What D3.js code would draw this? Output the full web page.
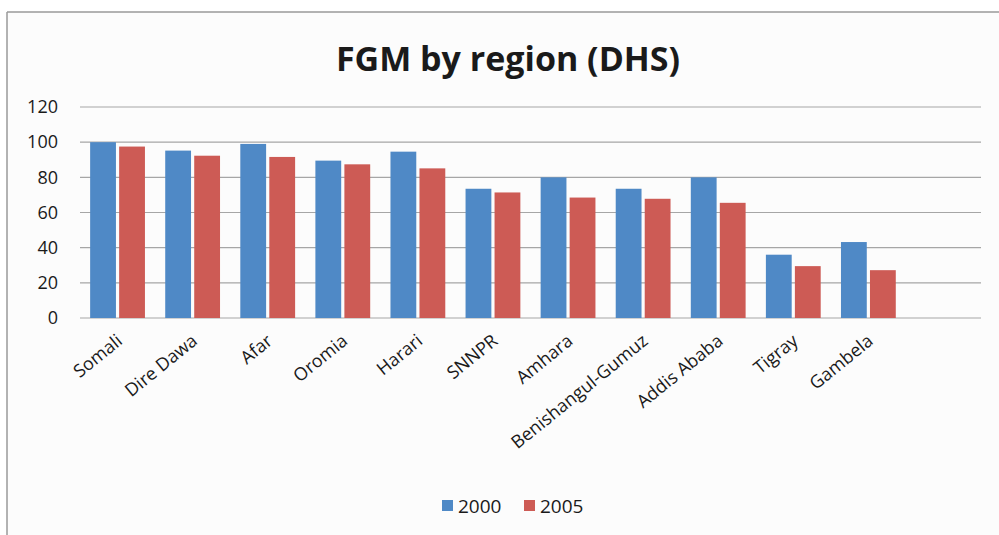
<!DOCTYPE html>
<html>
<head>
<meta charset="utf-8">
<script src="https://cdn.jsdelivr.net/npm/d3@7"></script>
<style>
  body { margin: 0; background: #fff; }
  text { font-family: "Open Sans", sans-serif; fill: #1a1a1a; }
</style>
</head>
<body>
<div id="chart"></div>
<script>
// regions, last slot is left empty like in the original sheet
var regions = ["Somali", "Dire Dawa", "Afar", "Oromia", "Harari", "SNNPR", "Amhara",
               "Benishangul-Gumuz", "Addis Ababa", "Tigray", "Gambela", ""];
var years = ["2000", "2005"];
var values2000 = [100, 95.2, 99, 89.5, 94.6, 73.5, 80, 73.5, 80, 36, 43.2];
var values2005 = [97.5, 92.3, 91.6, 87.4, 85.1, 71.4, 68.5, 67.8, 65.5, 29.5, 27.2];
var yTicks = [0, 20, 40, 60, 80, 100, 120];
var colors = ["#4f89c6", "#cd5b55"];

var svgWidth = 999;
var svgHeight = 535;

// plot area
var margin = { top: 107, right: 18, bottom: 217, left: 80 };
var chartWidth = svgWidth - margin.left - margin.right;
var chartHeight = svgHeight - margin.top - margin.bottom;

var svg = d3.select("#chart")
  .append("svg")
  .attr("width", svgWidth)
  .attr("height", svgHeight);

// frame lines (top and left only are visible)
svg.append("rect")
  .attr("x", 7).attr("y", 12)
  .attr("width", svgWidth).attr("height", svgHeight)
  .attr("fill", "#fcfcfc");
svg.append("line")
  .attr("x1", 7).attr("x2", svgWidth).attr("y1", 12).attr("y2", 12)
  .attr("stroke", "#9a9a9a").attr("stroke-width", 1.5);
svg.append("line")
  .attr("x1", 7).attr("x2", 7).attr("y1", 12).attr("y2", svgHeight)
  .attr("stroke", "#9a9a9a").attr("stroke-width", 1.5);

svg.append("text")
  .attr("x", 508)
  .attr("y", 71)
  .attr("text-anchor", "middle")
  .style("font-size", "34px")
  .style("font-weight", "bold")
  .text("FGM by region (DHS)");

var chartGroup = svg.append("g")
  .attr("transform", `translate(${margin.left}, ${margin.top})`);

var xScale = d3.scaleBand()
  .domain(regions)
  .range([0, chartWidth])
  .paddingInner(0.27)
  .paddingOuter(0.135);

var xInner = d3.scaleBand()
  .domain(years)
  .range([0, xScale.bandwidth()])
  .paddingInner(0.11);

var yScale = d3.scaleLinear()
  .domain([0, 120])
  .range([chartHeight, 0]);

// gridlines
chartGroup.append("g")
  .selectAll("line")
  .data(yTicks)
  .enter()
  .append("line")
  .attr("x1", 0)
  .attr("x2", chartWidth)
  .attr("y1", d => yScale(d))
  .attr("y2", d => yScale(d))
  .attr("stroke", "#a6a6a6")
  .attr("stroke-width", 1.2);

// y axis labels
var leftAxis = d3.axisLeft(yScale).tickValues(yTicks).tickSize(0).tickPadding(22);
chartGroup.append("g")
  .call(leftAxis)
  .call(g => g.select(".domain").remove())
  .selectAll("text")
  .style("font-size", "18px");

// bars
var series = [values2000, values2005];
series.forEach(function(vals, i) {
  chartGroup.append("g")
    .selectAll("rect")
    .data(vals)
    .enter()
    .append("rect")
    .attr("x", (d, j) => xScale(regions[j]) + xInner(years[i]))
    .attr("y", d => yScale(d))
    .attr("width", xInner.bandwidth())
    .attr("height", d => chartHeight - yScale(d))
    .attr("fill", colors[i]);
});

// x axis labels, rotated (the slide looks stretched so the angle is flatter than 45)
var bottomAxis = d3.axisBottom(xScale).tickSize(0).tickPadding(0);
chartGroup.append("g")
  .attr("transform", `translate(0, ${chartHeight})`)
  .call(bottomAxis)
  .call(g => g.select(".domain").remove())
  .selectAll("text")
  .style("font-size", "18px")
  .attr("text-anchor", "end")
  .attr("dy", "0")
  .attr("transform", "translate(6, 25) rotate(-39)");

// legend
var legend = svg.append("g")
  .attr("transform", "translate(442, 500)");
var legendItems = legend.selectAll("g")
  .data(years)
  .enter()
  .append("g")
  .attr("transform", (d, i) => `translate(${i * 82}, 0)`);
legendItems.append("rect")
  .attr("width", 11)
  .attr("height", 11)
  .attr("fill", (d, i) => colors[i]);
legendItems.append("text")
  .attr("x", 16)
  .attr("y", 13)
  .style("font-size", "19px")
  .text(d => d);
</script>
</body>
</html>
